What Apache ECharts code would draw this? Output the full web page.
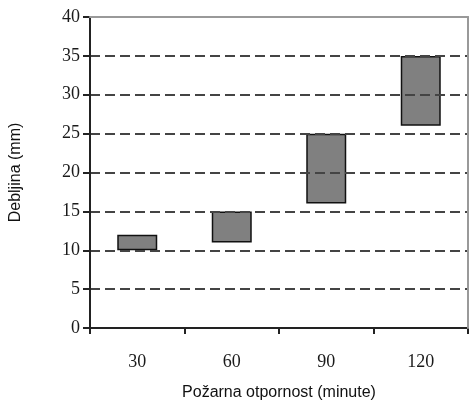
<!DOCTYPE html>
<html>
<head>
<meta charset="utf-8">
<script src="https://cdn.jsdelivr.net/npm/echarts@6/dist/echarts.min.js"></script>
<style>
  html, body { margin: 0; padding: 0; background: #fff; }
  #chart { width: 469px; height: 408px; }
</style>
</head>
<body>
<div id="chart"></div>
<script>
// kategorije i raspon debljine
var categories = ['30', '60', '90', '120'];
var lowVals = [10, 11, 16, 26];
var highVals = [12, 15, 25, 35];
var yTicks = [0, 5, 10, 15, 20, 25, 30, 35, 40];

var rangeVals = highVals.map(function (h, i) { return h - lowVals[i]; });

var myChart = echarts.init(document.getElementById('chart'));

var option = {
    animation: false,
    grid: { left: 86, right: 1, top: 17, bottom: 80 },
    xAxis: [
        {
            type: 'category',
            data: categories,
            name: 'Požarna otpornost (minute)',
            nameLocation: 'middle',
            nameGap: 57,
            nameTextStyle: { fontFamily: 'Liberation Sans', fontSize: 16, color: '#111' },
            axisLine: { lineStyle: { color: '#222', width: 2 } },
            axisTick: { show: true, length: 6, lineStyle: { color: '#222', width: 2 } },
            axisLabel: { fontFamily: 'Liberation Serif', fontSize: 18, color: '#1a1a1a', margin: 25 },
            splitLine: { show: false },
            z: 5
        },
        {
            // gornji okvir
            type: 'category',
            position: 'top',
            data: categories,
            axisLine: { show: true, onZero: false, lineStyle: { color: '#999', width: 2 } },
            axisTick: { show: false },
            axisLabel: { show: false },
            z: 10
        }
    ],
    yAxis: [
        {
            type: 'value',
            min: yTicks[0],
            max: yTicks[yTicks.length - 1],
            interval: 5,
            name: 'Debljina (mm)',
            nameLocation: 'middle',
            nameGap: 66,
            nameTextStyle: { fontFamily: 'Liberation Sans', fontSize: 16, color: '#111' },
            axisLine: { show: true, lineStyle: { color: '#222', width: 2 } },
            axisTick: { show: true, length: 7, lineStyle: { color: '#222', width: 2 } },
            axisLabel: { fontFamily: 'Liberation Serif', fontSize: 18, color: '#1a1a1a', margin: 10 },
            splitLine: {
                show: true,
                showMaxLine: false,
                lineStyle: { color: '#444', width: 2, type: [10, 5] }
            },
            z: 5
        },
        {
            // desni okvir
            type: 'value',
            position: 'right',
            min: yTicks[0],
            max: yTicks[yTicks.length - 1],
            interval: 5,
            axisLine: { show: true, onZero: false, lineStyle: { color: '#999', width: 2 } },
            axisTick: { show: false },
            axisLabel: { show: false },
            splitLine: { show: false },
            z: 10
        }
    ],
    series: [
        {
            type: 'bar',
            stack: 'r',
            data: lowVals,
            itemStyle: { color: 'transparent' },
            barWidth: 40,
            silent: true
        },
        {
            type: 'bar',
            stack: 'r',
            data: rangeVals,
            barWidth: 40,
            itemStyle: { color: '#808080', borderColor: '#111', borderWidth: 1.5 }
        }
    ]
};

myChart.setOption(option, true);
</script>
</body>
</html>
